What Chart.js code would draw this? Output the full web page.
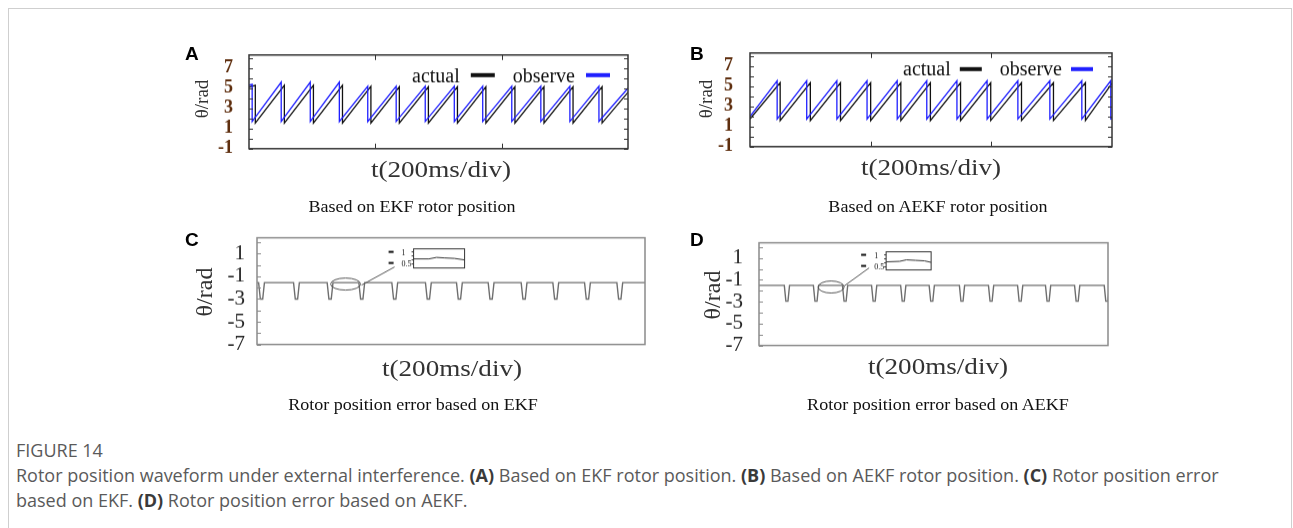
<!DOCTYPE html>
<html>
<head>
<meta charset="utf-8">
<script src="https://cdn.jsdelivr.net/npm/chart.js@4.4.1/dist/chart.umd.min.js"></script>
<style>
  html, body { margin: 0; padding: 0; background: #fff; }
  #fig { position: relative; width: 1293px; height: 528px; overflow: hidden; background: #fff; }
  #frame { position: absolute; left: 8px; top: 8px; width: 1282px; height: 600px; border: 1px solid #cfcfcf; }
  .box { position: absolute; }
  .t { position: absolute; white-space: nowrap; line-height: 1; }
  .serif { font-family: "Liberation Serif", "Times New Roman", serif; color: #222; }
  .letter { font-family: "Liberation Sans", Arial, sans-serif; font-weight: bold; font-size: 19px; color: #000; }
  .cap { font-family: "Open Sans", "Noto Sans", sans-serif; color: #5a5a5a; font-size: 18px; }
  .cap b { color: #3a3a3a; }
</style>
</head>
<body>
<div id="fig">
  <div id="frame"></div>
  <div class="box" id="wA"><canvas id="cA"></canvas></div>
  <div class="box" id="wB"><canvas id="cB"></canvas></div>
  <div class="box" id="wC"><canvas id="cC"></canvas></div>
  <div class="box" id="wD"><canvas id="cD"></canvas></div>
</div>
<script>
// time axis: 3 divisions of 200 ms
var tMin = 0, tMax = 600;
var yTicksAB = [-1, 1, 3, 5, 7];
var yTicksCD = [1, -1, -3, -5, -7];

// panel A (EKF) - sawtooth drop times (ms) and levels
var dropsA_observe = [5, 51, 97, 143, 188, 233, 279, 325, 370, 416, 462, 508, 554];
var peaksA_observe = [5.4, 5.6, 5.6, 5.6, 5.2, 5.2, 5.2, 5.2, 5.2, 5.2, 5.2, 5.2, 5.2];
var dropsA_actual = [10, 56, 102, 148, 193, 238, 284, 330, 375, 421, 467, 513, 559];
var peaksA_actual = [5.3, 5.3, 5.3, 5.3, 5.2, 5.15, 5.15, 5.15, 5.15, 5.15, 5.15, 5.15, 5.15];
var troughA = { observe: 1.7, actual: 1.55 };
var edgesA = { observe: [5.3, 5.0], actual: [5.1, 4.6] };

// panel B (AEKF)
var dropsB_observe = [45, 94, 144, 194, 244, 293, 343, 393, 444, 497, 550, 598];
var peaksB_observe = [5.55, 5.55, 5.55, 5.55, 5.55, 5.55, 5.55, 5.55, 5.55, 5.55, 5.55, 5.55];
var dropsB_actual = [50, 100, 150, 200, 250, 299, 349, 399, 450, 503, 556];
var peaksB_actual = [5.35, 5.35, 5.35, 5.35, 5.35, 5.35, 5.35, 5.35, 5.35, 5.35, 5.35];
var troughB = { observe: 1.75, actual: 1.6 };
var edgesB = { observe: [2.0, 1.8], actual: [1.75, 5.3] };

// panel C / D position error: dip centres (ms), baseline and dip level
var dipsC = [7, 61, 113, 162, 213, 265, 313, 362, 413, 462, 511, 561];
var levelsC = { base: -1.55, dip: -3.0 };
var dipsD = [48, 98, 148, 198, 248, 297, 349, 399, 449, 497, 547, 598];
var levelsD = { base: -1.5, dip: -2.95 };

function sawtooth(drops, peaks, trough, edges) {
  var pts = [{ x: tMin, y: edges[0] }];
  drops.forEach(function(t, i) {
    pts.push({ x: t, y: peaks[i] });
    pts.push({ x: t, y: trough });
  });
  pts.push({ x: tMax, y: edges[1] });
  return pts;
}

function dipLine(centres, lv) {
  var top = 4.5, bot = 1.8;
  var pts = [{ x: tMin, y: lv.base }];
  centres.forEach(function(c) {
    pts.push({ x: c - top, y: lv.base }, { x: c - bot, y: lv.dip }, { x: c + bot, y: lv.dip }, { x: c + top, y: lv.base });
  });
  if (pts[pts.length - 1].x < tMax) pts.push({ x: tMax, y: lv.base });
  return pts;
}

// box, inward ticks, legend and zoom inset
var framePlugin = {
  id: 'frame',
  afterDatasetsDraw: function(chart, args, o) {
    var ctx = chart.ctx, a = chart.chartArea, x = chart.scales.x, y = chart.scales.y;
    ctx.save();
    ctx.strokeStyle = o.color;
    ctx.lineWidth = o.width;
    ctx.strokeRect(a.left, a.top, a.right - a.left, a.bottom - a.top);
    ctx.lineWidth = 1;
    ctx.beginPath();
    for (var v = Math.ceil(y.min); v <= y.max; v++) {
      var py = Math.round(y.getPixelForValue(v)) + 0.5;
      ctx.moveTo(a.left, py); ctx.lineTo(a.left + 4, py);
      if (o.rightTicks) { ctx.moveTo(a.right, py); ctx.lineTo(a.right - 4, py); }
    }
    (o.xTicks || []).forEach(function(t) {
      var px = Math.round(x.getPixelForValue(t)) + 0.5;
      ctx.moveTo(px, a.top); ctx.lineTo(px, a.top + 5);
      ctx.moveTo(px, a.bottom); ctx.lineTo(px, a.bottom - 5);
    });
    ctx.stroke();

    if (o.legend) {
      var L = o.legend;
      ctx.font = '20px "Liberation Serif", serif';
      ctx.fillStyle = '#111';
      ctx.textAlign = 'right';
      ctx.textBaseline = 'alphabetic';
      var xr = a.right - L.right;
      chart.data.datasets.forEach(function(ds) {
        ctx.strokeStyle = ds.borderColor;
        ctx.lineWidth = 4;
        ctx.beginPath();
        ctx.moveTo(xr - L.seg, a.top + L.segY);
        ctx.lineTo(xr, a.top + L.segY);
        ctx.stroke();
        xr -= L.seg + L.gap;
        ctx.fillText(ds.label, xr, a.top + L.textY);
        xr -= ctx.measureText(ds.label).width + L.gap2;
      });
    }

    if (o.inset) {
      var I = o.inset;
      var ex = x.getPixelForValue(I.at[0]), ey = y.getPixelForValue(I.at[1]);
      ctx.strokeStyle = '#555';
      ctx.lineWidth = 1;
      ctx.beginPath();
      ctx.ellipse(ex, ey, I.rx, I.ry, 0, 0, Math.PI * 2);
      ctx.stroke();
      ctx.beginPath();
      ctx.moveTo(ex + I.link[0], ey + I.link[1]);
      ctx.lineTo(ex + I.link[2], ey + I.link[3]);
      ctx.stroke();
      var bx = ex + I.box[0], by = ey + I.box[1], bw = I.box[2], bh = I.box[3];
      ctx.strokeStyle = '#333';
      ctx.strokeRect(bx, by, bw, bh);
      ctx.beginPath();
      I.trace.forEach(function(p, i) {
        var qx = bx + p[0] * bw, qy = by + p[1];
        if (i === 0) ctx.moveTo(qx, qy); else ctx.lineTo(qx, qy);
      });
      ctx.stroke();
      ctx.beginPath();
      [3, 7, 11, 15].forEach(function(d) { ctx.moveTo(bx, by + d); ctx.lineTo(bx - 2, by + d); });
      ctx.stroke();
      ctx.fillStyle = '#111';
      ctx.fillRect(bx - 25, by + 2, 5, 2);
      ctx.fillRect(bx - 25, by + 13, 5, 2);
      ctx.font = '8px "Liberation Serif", serif';
      ctx.textAlign = 'right';
      ctx.textBaseline = 'middle';
      ctx.fillText('1', bx - 8, by + 4);
      ctx.fillText('0.5', bx - 2, by + 15);
    }
    ctx.restore();
  }
};

function panel(id, box, series, yMin, yMax, yTicks, tickFont, tickColor, pad, frame) {
  var axisW = 99;
  var wrap = document.getElementById('w' + id);
  var left = box[0] - axisW, top = box[1] - 10;
  var w = box[2] - left + 6, h = box[3] - top + 4;
  function place() {
    wrap.style.left = left + 'px';
    wrap.style.top = top + 'px';
    wrap.style.width = w + 'px';
    wrap.style.height = h + 'px';
  }
  place();
  var chart = new Chart(document.getElementById('c' + id), {
    type: 'line',
    data: { datasets: series },
    options: {
      responsive: true,
      maintainAspectRatio: false,
      animation: false,
      events: [],
      layout: { padding: { top: 10, right: 6, bottom: 4, left: 0 } },
      elements: { point: { radius: 0 }, line: { tension: 0 } },
      scales: {
        x: { type: 'linear', min: tMin, max: tMax, display: false },
        y: {
          type: 'linear', min: yMin, max: yMax,
          afterBuildTicks: function(s) { s.ticks = yTicks.map(function(v) { return { value: v }; }); },
          afterFit: function(s) { s.width = axisW; },
          grid: { display: false, drawTicks: false },
          border: { display: false },
          ticks: { padding: pad, color: tickColor, font: tickFont, autoSkip: false }
        }
      },
      plugins: { legend: { display: false }, tooltip: { enabled: false }, frame: frame }
    },
    plugins: [framePlugin]
  });
  // shift / grow the canvas so the plot box lands on the wanted rectangle
  for (var k = 0; k < 3; k++) {
    var a = chart.chartArea;
    left += box[0] - (left + a.left);
    top += box[1] - (top + a.top);
    w += (box[2] - box[0]) - (a.right - a.left);
    h += (box[3] - box[1]) - (a.bottom - a.top);
    place();
    chart.resize(w, h);
  }
  return chart;
}

var tickFontAB = { family: '"Liberation Serif", serif', size: 18, weight: 'bold' };
var tickFontCD = { family: '"Liberation Serif", serif', size: 21 };

panel('A', [249, 55, 628, 148], [
  { label: 'observe', data: sawtooth(dropsA_observe, peaksA_observe, troughA.observe, edgesA.observe), borderColor: '#1f1fff', borderWidth: 1.3, order: 0 },
  { label: 'actual', data: sawtooth(dropsA_actual, peaksA_actual, troughA.actual, edgesA.actual), borderColor: '#111', borderWidth: 1.3, order: 1 }
], -1, 8.3, yTicksAB, tickFontAB, '#5e2e0e', 16,
  { color: '#333', width: 1.5, rightTicks: true, xTicks: [200, 400], legend: { right: 18, seg: 24, gap: 11, gap2: 18, segY: 20, textY: 27 } });

panel('B', [750, 53, 1112, 146], [
  { label: 'observe', data: sawtooth(dropsB_observe, peaksB_observe, troughB.observe, edgesB.observe), borderColor: '#1f1fff', borderWidth: 1.3, order: 0 },
  { label: 'actual', data: sawtooth(dropsB_actual, peaksB_actual, troughB.actual, edgesB.actual), borderColor: '#111', borderWidth: 1.3, order: 1 }
], -1, 8.3, yTicksAB, tickFontAB, '#5e2e0e', 17,
  { color: '#333', width: 1.5, rightTicks: true, xTicks: [200, 400], legend: { right: 19, seg: 22, gap: 9, gap2: 18, segY: 16, textY: 22 } });

panel('C', [257, 238, 645, 344], [
  { label: 'error', data: dipLine(dipsC, levelsC), borderColor: '#6e6e6e', borderWidth: 1.4 }
], -7, 2.4, yTicksCD, tickFontCD, '#222', 12,
  { color: '#8a8a8a', width: 1.5, rightTicks: false, xTicks: [],
    inset: { at: [137, -1.68], rx: 15, ry: 6, link: [16, 1, 49, -17], box: [68, -35, 51, 19],
             trace: [[0, 10], [0.3, 10], [0.45, 8.5], [0.6, 9], [0.8, 9.5], [1, 11]] } });

panel('D', [759, 243, 1108, 345], [
  { label: 'error', data: dipLine(dipsD, levelsD), borderColor: '#6e6e6e', borderWidth: 1.4 }
], -7, 2.4, yTicksCD, tickFontCD, '#222', 16,
  { color: '#8a8a8a', width: 1.5, rightTicks: false, xTicks: [],
    inset: { at: [124, -1.65], rx: 13, ry: 6, link: [13, -1, 38, -19], box: [55, -35, 45, 18],
             trace: [[0, 10], [0.3, 9.5], [0.45, 8], [0.65, 8.5], [0.85, 9], [1, 10.5]] } });

// text around the charts
var fig = document.getElementById('fig');
function txt(html, x, y, cls, css, tf) {
  var d = document.createElement('div');
  d.className = 't ' + cls;
  d.innerHTML = html;
  d.style.left = x + 'px';
  d.style.top = y + 'px';
  if (css) d.style.cssText += css;
  d.style.transform = tf || 'translate(-50%, -50%)';
  fig.appendChild(d);
  return d;
}

txt('A', 185, 44, 'letter', '', 'none');
txt('B', 690, 44, 'letter', '', 'none');
txt('C', 185, 230, 'letter', '', 'none');
txt('D', 690, 230, 'letter', '', 'none');

txt('θ/rad', 201, 99, 'serif', 'font-size:19px;color:#333', 'translate(-50%,-50%) rotate(-90deg)');
txt('θ/rad', 705, 99, 'serif', 'font-size:19px;color:#333', 'translate(-50%,-50%) rotate(-90deg)');
txt('θ/rad', 204, 292, 'serif', 'font-size:24px;color:#333', 'translate(-50%,-50%) rotate(-90deg)');
txt('θ/rad', 712, 295, 'serif', 'font-size:24px;color:#333', 'translate(-50%,-50%) rotate(-90deg)');

txt('t(200ms/div)', 441, 169, 'serif', 'font-size:23px;color:#333', 'translate(-50%,-50%) scaleX(1.18)');
txt('t(200ms/div)', 931, 167, 'serif', 'font-size:23px;color:#333', 'translate(-50%,-50%) scaleX(1.18)');
txt('t(200ms/div)', 452, 368, 'serif', 'font-size:24px;color:#333', 'translate(-50%,-50%) scaleX(1.13)');
txt('t(200ms/div)', 938, 366, 'serif', 'font-size:24px;color:#333', 'translate(-50%,-50%) scaleX(1.13)');

txt('Based on EKF rotor position', 412, 206, 'serif', 'font-size:17px;color:#111', 'translate(-50%,-50%) scaleX(1.06)');
txt('Based on AEKF rotor position', 938, 206, 'serif', 'font-size:17px;color:#111', 'translate(-50%,-50%) scaleX(1.06)');
txt('Rotor position error based on EKF', 413, 404, 'serif', 'font-size:17px;color:#111', 'translate(-50%,-50%) scaleX(1.06)');
txt('Rotor position error based on AEKF', 938, 404, 'serif', 'font-size:17px;color:#111', 'translate(-50%,-50%) scaleX(1.06)');

txt('FIGURE 14', 16, 441, 'cap', '', 'none');
txt('Rotor position waveform under external interference. <b>(A)</b> Based on EKF rotor position. <b>(B)</b> Based on AEKF rotor position. <b>(C)</b> Rotor position error', 16, 466, 'cap', '', 'none');
txt('based on EKF. <b>(D)</b> Rotor position error based on AEKF.', 16, 491, 'cap', '', 'none');
</script>
</body>
</html>
